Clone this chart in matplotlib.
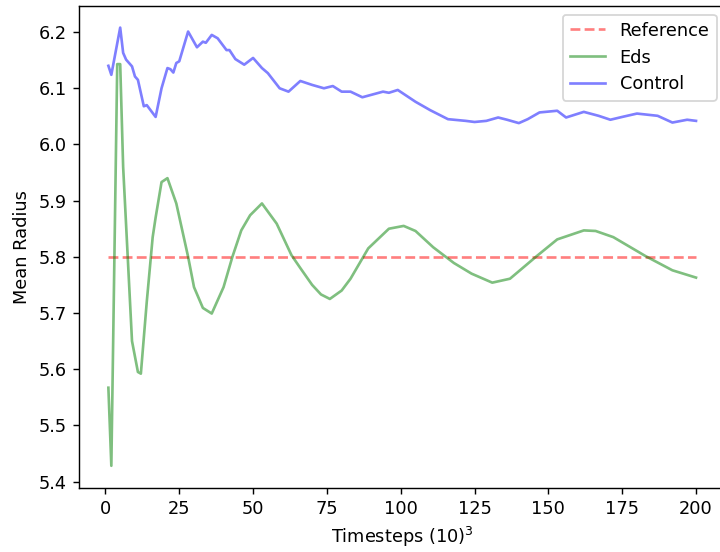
import matplotlib
matplotlib.use("Agg")
import matplotlib.pyplot as plt

ref_x = [1, 200]
ref_y = [5.8, 5.8]

eds_x = [1, 2, 4, 5, 6, 9, 11, 12, 14, 16, 17, 19, 21, 24, 28, 30, 33, 36, 40, 43,
         46, 49, 53, 58, 63, 66, 70, 73, 76, 80, 83, 89, 96, 101, 105, 111, 118,
         124, 131, 137, 146, 153, 162, 166, 172, 183, 192, 200]
eds_y = [5.567, 5.428, 6.143, 6.143, 5.96, 5.65, 5.595, 5.592, 5.72, 5.835, 5.87,
         5.933, 5.940, 5.895, 5.80, 5.746, 5.709, 5.699, 5.746, 5.800, 5.847, 5.874,
         5.895, 5.859, 5.803, 5.780, 5.750, 5.733, 5.725, 5.740, 5.761, 5.815, 5.850,
         5.855, 5.846, 5.817, 5.789, 5.770, 5.754, 5.761, 5.801, 5.831, 5.847, 5.846,
         5.835, 5.801, 5.776, 5.763]

ctl_x = [1, 2, 5, 6, 7, 9, 10, 11, 13, 14, 17, 19, 21, 22, 23, 24, 25, 28, 31, 33,
         34, 36, 38, 41, 42, 44, 47, 50, 53, 55, 59, 62, 66, 70, 74, 77, 80, 83, 87,
         94, 96, 99, 105, 110, 116, 122, 125, 129, 133, 136, 140, 143, 147, 153, 156,
         162, 167, 171, 175, 180, 187, 192, 197, 200]
ctl_y = [6.140, 6.124, 6.208, 6.163, 6.151, 6.139, 6.121, 6.115, 6.068, 6.070, 6.049,
         6.100, 6.136, 6.134, 6.128, 6.145, 6.148, 6.201, 6.173, 6.183, 6.181, 6.195,
         6.189, 6.168, 6.168, 6.152, 6.142, 6.154, 6.136, 6.127, 6.100, 6.094, 6.113,
         6.106, 6.100, 6.104, 6.094, 6.094, 6.084, 6.094, 6.092, 6.097, 6.076, 6.061,
         6.045, 6.042, 6.040, 6.042, 6.048, 6.044, 6.038, 6.045, 6.057, 6.060, 6.048,
         6.058, 6.051, 6.044, 6.049, 6.055, 6.051, 6.039, 6.044, 6.042]

s = 1.28
fig = plt.figure(figsize=(7.2 / s, 5.52 / s), dpi=100 * s)
ax = fig.add_axes([79 / 720, 1 - 487.7 / 552, (725.4 - 79) / 720, 482 / 552])

ax.plot(ref_x, ref_y, 'r--', alpha=0.5, label='Reference')
ax.plot(eds_x, eds_y, 'g-', alpha=0.5, label='Eds')
ax.plot(ctl_x, ctl_y, 'b-', alpha=0.5, label='Control')

ax.set_xticks([0, 25, 50, 75, 100, 125, 150, 175, 200])
ax.set_xlabel('Timesteps $(10)^3$')
ax.set_ylabel('Mean Radius')
ax.legend(loc='upper right')

fig.savefig('out.png', dpi=100 * s)
